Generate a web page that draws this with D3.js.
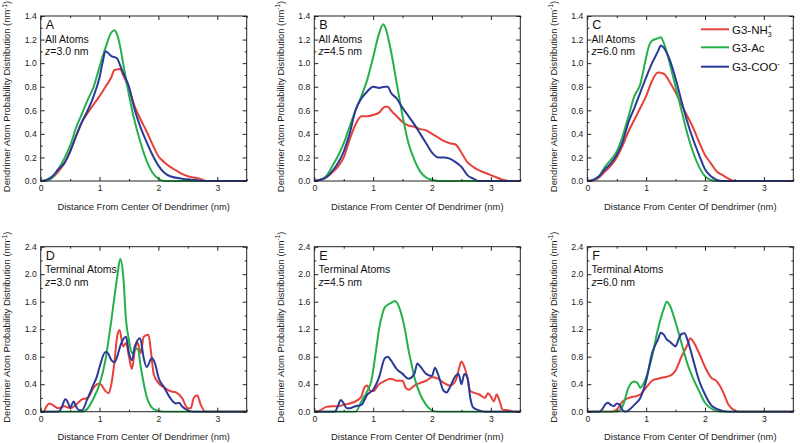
<!DOCTYPE html>
<html><head><meta charset="utf-8">
<script src="https://cdn.jsdelivr.net/npm/d3@7"></script>
<style>body{margin:0;background:#fff;} svg{display:block;font-family:"Liberation Sans",Arial,sans-serif;}</style>
</head><body><svg id="c" width="800" height="443"></svg>
<script>
// ---------- DATA (distance nm, probability nm^-1) ----------
const seriesNames = ["G3-NH3+", "G3-Ac", "G3-COO-"];
const xTicks = [0, 1, 2, 3];
const yTicksTop = [0, 0.2, 0.4, 0.6, 0.8, 1.0, 1.2, 1.4];
const yTicksBottom = [0, 0.4, 0.8, 1.2, 1.6, 2.0, 2.4];

const A_NH3 = [[0,0],[0.1,0.005],[0.2,0.03],[0.3,0.08],[0.4,0.15],[0.5,0.25],[0.6,0.38],[0.7,0.5],[0.8,0.58],[0.9,0.65],[1.0,0.72],[1.1,0.8],[1.2,0.88],[1.25,0.94],[1.35,0.95],[1.4,0.9],[1.5,0.78],[1.6,0.63],[1.7,0.52],[1.8,0.42],[1.9,0.31],[2.0,0.21],[2.1,0.16],[2.2,0.12],[2.3,0.09],[2.4,0.06],[2.5,0.04],[2.6,0.03],[2.7,0.02],[2.8,0],[3.5,0]];
const A_Ac = [[0,0],[0.1,0.005],[0.2,0.03],[0.3,0.1],[0.4,0.19],[0.5,0.3],[0.6,0.45],[0.7,0.57],[0.8,0.69],[0.9,0.8],[1.0,0.97],[1.1,1.13],[1.2,1.26],[1.25,1.28],[1.3,1.24],[1.35,1.14],[1.4,1.0],[1.45,0.86],[1.5,0.73],[1.6,0.5],[1.7,0.32],[1.8,0.17],[1.9,0.07],[2.0,0.02],[2.1,0],[3.5,0]];
const A_COO = [[0,0],[0.1,0.01],[0.2,0.04],[0.3,0.1],[0.4,0.15],[0.5,0.25],[0.6,0.38],[0.7,0.5],[0.8,0.6],[0.9,0.72],[1.0,0.88],[1.05,1.0],[1.1,1.1],[1.2,1.06],[1.3,1.04],[1.35,0.98],[1.4,0.92],[1.5,0.8],[1.6,0.6],[1.7,0.45],[1.8,0.33],[1.9,0.22],[2.0,0.13],[2.1,0.07],[2.2,0.04],[2.4,0.02],[2.6,0.01],[2.8,0],[3.5,0]];

const B_NH3 = [[0,0],[0.1,0.01],[0.2,0.03],[0.3,0.07],[0.4,0.12],[0.5,0.2],[0.6,0.35],[0.7,0.48],[0.8,0.55],[0.9,0.55],[1.0,0.56],[1.1,0.58],[1.2,0.63],[1.25,0.63],[1.3,0.6],[1.4,0.55],[1.5,0.5],[1.6,0.47],[1.7,0.46],[1.8,0.44],[1.9,0.43],[2.0,0.4],[2.1,0.37],[2.2,0.34],[2.3,0.32],[2.4,0.31],[2.5,0.24],[2.6,0.16],[2.7,0.12],[2.8,0.09],[2.9,0.07],[3.0,0.05],[3.1,0.03],[3.2,0.01],[3.3,0],[3.5,0]];
const B_Ac = [[0,0],[0.1,0.01],[0.2,0.04],[0.3,0.12],[0.4,0.21],[0.5,0.32],[0.6,0.46],[0.7,0.6],[0.8,0.72],[0.9,0.86],[1.0,1.05],[1.1,1.25],[1.17,1.33],[1.2,1.31],[1.3,1.11],[1.4,0.83],[1.5,0.55],[1.6,0.32],[1.7,0.18],[1.8,0.08],[1.9,0.03],[2.0,0.01],[2.1,0],[3.5,0]];
const B_COO = [[0,0],[0.1,0.01],[0.2,0.03],[0.3,0.08],[0.4,0.15],[0.5,0.25],[0.6,0.4],[0.7,0.6],[0.8,0.7],[0.9,0.76],[1.0,0.8],[1.1,0.79],[1.2,0.8],[1.25,0.8],[1.3,0.75],[1.4,0.7],[1.5,0.62],[1.6,0.55],[1.7,0.48],[1.8,0.4],[1.9,0.32],[2.0,0.24],[2.1,0.2],[2.2,0.2],[2.3,0.19],[2.4,0.16],[2.5,0.12],[2.6,0.05],[2.7,0.02],[2.8,0],[3.5,0]];

const C_NH3 = [[0,0],[0.1,0.005],[0.2,0.03],[0.3,0.08],[0.4,0.13],[0.5,0.2],[0.6,0.3],[0.7,0.42],[0.8,0.52],[0.9,0.62],[1.0,0.72],[1.1,0.85],[1.2,0.92],[1.3,0.91],[1.4,0.84],[1.5,0.75],[1.6,0.65],[1.7,0.55],[1.8,0.45],[1.9,0.33],[2.0,0.22],[2.1,0.15],[2.2,0.08],[2.3,0.05],[2.4,0.02],[2.5,0],[3.5,0]];
const C_Ac = [[0,0],[0.1,0.01],[0.2,0.04],[0.3,0.12],[0.4,0.18],[0.5,0.25],[0.6,0.38],[0.7,0.55],[0.8,0.72],[0.9,0.82],[1.0,1.05],[1.05,1.15],[1.1,1.19],[1.2,1.21],[1.25,1.22],[1.3,1.17],[1.4,1.0],[1.5,0.8],[1.6,0.6],[1.7,0.4],[1.8,0.24],[1.9,0.12],[2.0,0.04],[2.1,0.01],[2.2,0],[3.5,0]];
const C_COO = [[0,0],[0.1,0.01],[0.2,0.04],[0.3,0.1],[0.4,0.15],[0.5,0.22],[0.6,0.33],[0.7,0.5],[0.8,0.62],[0.9,0.75],[1.0,0.88],[1.1,1.0],[1.2,1.1],[1.25,1.15],[1.3,1.13],[1.4,1.03],[1.5,0.87],[1.6,0.68],[1.7,0.5],[1.8,0.35],[1.9,0.22],[2.0,0.1],[2.1,0.04],[2.2,0.01],[2.3,0],[3.5,0]];

const D_NH3 = [[0,0],[0.05,0],[0.1,0.08],[0.15,0.12],[0.2,0.1],[0.3,0.05],[0.4,0.08],[0.5,0.05],[0.6,0.1],[0.7,0.18],[0.8,0.2],[0.9,0.35],[1.0,0.41],[1.1,0.3],[1.15,0.27],[1.2,0.4],[1.25,0.7],[1.3,1.1],[1.34,1.19],[1.4,0.95],[1.45,1.0],[1.5,0.8],[1.55,0.62],[1.6,0.9],[1.65,1.0],[1.7,0.85],[1.75,1.09],[1.83,1.12],[1.87,0.9],[1.92,0.55],[2.0,0.42],[2.1,0.35],[2.2,0.3],[2.3,0.28],[2.4,0.2],[2.5,0.05],[2.55,0.05],[2.6,0.2],[2.66,0.24],[2.72,0.1],[2.8,0],[3.5,0]];
const D_Ac = [[0,0],[0.7,0],[0.8,0.05],[0.9,0.2],[1.0,0.4],[1.1,0.75],[1.2,1.33],[1.3,1.96],[1.35,2.22],[1.4,2.0],[1.45,1.33],[1.5,1.04],[1.55,0.85],[1.6,0.9],[1.65,0.92],[1.7,0.65],[1.8,0.22],[1.9,0.05],[2.0,0.01],[2.1,0],[3.5,0]];
const D_COO = [[0,0],[0.3,0],[0.35,0.05],[0.42,0.18],[0.47,0.12],[0.5,0.06],[0.56,0.15],[0.6,0.08],[0.65,0.02],[0.7,0.02],[0.8,0.2],[0.9,0.4],[0.95,0.5],[1.0,0.65],[1.1,0.87],[1.15,0.84],[1.2,0.75],[1.25,0.72],[1.3,0.8],[1.35,0.95],[1.45,1.09],[1.5,0.85],[1.55,0.75],[1.6,0.95],[1.69,1.07],[1.75,0.78],[1.8,0.65],[1.89,0.78],[1.95,0.68],[2.0,0.5],[2.1,0.35],[2.2,0.2],[2.3,0.12],[2.35,0.13],[2.4,0.08],[2.5,0.02],[2.6,0],[3.5,0]];

const E_NH3 = [[0,0],[0.1,0.02],[0.2,0.07],[0.3,0.08],[0.4,0.08],[0.5,0.1],[0.6,0.12],[0.7,0.15],[0.8,0.22],[0.85,0.35],[0.9,0.38],[0.95,0.3],[1.0,0.3],[1.1,0.4],[1.2,0.45],[1.3,0.48],[1.4,0.45],[1.5,0.45],[1.55,0.35],[1.6,0.32],[1.7,0.38],[1.8,0.42],[1.9,0.45],[2.0,0.5],[2.1,0.48],[2.2,0.42],[2.3,0.38],[2.4,0.45],[2.45,0.6],[2.5,0.73],[2.55,0.65],[2.6,0.5],[2.65,0.3],[2.7,0.28],[2.8,0.25],[2.9,0.2],[2.95,0.27],[3.0,0.22],[3.05,0.15],[3.1,0.25],[3.15,0.15],[3.2,0.03],[3.3,0.02],[3.4,0],[3.5,0]];
const E_Ac = [[0,0],[0.7,0],[0.8,0.15],[0.9,0.3],[0.97,0.45],[1.05,0.9],[1.1,1.2],[1.15,1.4],[1.2,1.52],[1.3,1.58],[1.37,1.61],[1.45,1.5],[1.5,1.35],[1.55,1.15],[1.6,0.9],[1.65,0.7],[1.7,0.5],[1.8,0.25],[1.9,0.1],[2.0,0.02],[2.1,0],[3.5,0]];
const E_COO = [[0,0],[0.35,0],[0.4,0.08],[0.45,0.17],[0.5,0.12],[0.55,0.05],[0.6,0.05],[0.7,0.08],[0.8,0.1],[0.9,0.25],[1.0,0.32],[1.1,0.5],[1.2,0.78],[1.25,0.8],[1.3,0.75],[1.4,0.62],[1.5,0.55],[1.6,0.48],[1.7,0.55],[1.75,0.7],[1.8,0.66],[1.9,0.55],[2.0,0.52],[2.05,0.64],[2.1,0.55],[2.2,0.3],[2.25,0.28],[2.3,0.35],[2.4,0.52],[2.45,0.55],[2.5,0.4],[2.55,0.55],[2.6,0.5],[2.65,0.2],[2.7,0.06],[2.8,0.02],[2.9,0],[3.5,0]];

const F_NH3 = [[0,0],[0.4,0],[0.5,0.03],[0.6,0.15],[0.7,0.2],[0.8,0.22],[0.9,0.25],[1.0,0.35],[1.1,0.45],[1.2,0.48],[1.3,0.5],[1.4,0.52],[1.5,0.6],[1.6,0.8],[1.7,0.97],[1.75,1.07],[1.8,1.02],[1.9,0.85],[2.0,0.65],[2.1,0.5],[2.2,0.44],[2.3,0.3],[2.4,0.1],[2.5,0.02],[2.6,0],[3.5,0]];
const F_Ac = [[0,0],[0.5,0],[0.6,0.08],[0.7,0.35],[0.75,0.42],[0.8,0.44],[0.85,0.42],[0.9,0.35],[1.0,0.5],[1.1,0.8],[1.2,1.2],[1.3,1.5],[1.35,1.6],[1.4,1.55],[1.5,1.3],[1.6,1.0],[1.7,0.7],[1.8,0.48],[1.9,0.3],[2.0,0.13],[2.1,0.05],[2.2,0.01],[2.3,0],[3.5,0]];
const F_COO = [[0,0],[0.2,0],[0.25,0.03],[0.3,0.1],[0.35,0.13],[0.4,0.1],[0.45,0.08],[0.5,0.12],[0.55,0.1],[0.6,0.02],[0.65,0],[0.7,0.02],[0.8,0.1],[0.9,0.2],[1.0,0.45],[1.1,0.85],[1.2,1.05],[1.25,1.15],[1.3,1.12],[1.35,1.05],[1.4,1.02],[1.45,0.98],[1.5,0.95],[1.55,1.05],[1.6,1.13],[1.65,1.14],[1.7,1.05],[1.8,0.75],[1.9,0.45],[2.0,0.25],[2.1,0.1],[2.2,0.04],[2.3,0.01],[2.4,0],[3.5,0]];

// ---------- LAYOUT ----------
const colors = ["#e8403a", "#24b04a", "#2b3a98"];
const PW = 206, PH = 165;
const panels = [
  {id:"A", label:"All Atoms", z:"3.0", yMax:1.4, yTicks:yTicksTop, minorY:0.1, series:[A_NH3,A_Ac,A_COO], left:40.7, top:16},
  {id:"B", label:"All Atoms", z:"4.5", yMax:1.4, yTicks:yTicksTop, minorY:0.1, series:[B_NH3,B_Ac,B_COO], left:314.3, top:16},
  {id:"C", label:"All Atoms", z:"6.0", yMax:1.4, yTicks:yTicksTop, minorY:0.1, series:[C_NH3,C_Ac,C_COO], left:587.3, top:16, legend:true},
  {id:"D", label:"Terminal Atoms", z:"3.0", yMax:2.4, yTicks:yTicksBottom, minorY:0.2, series:[D_NH3,D_Ac,D_COO], left:40.7, top:246.7},
  {id:"E", label:"Terminal Atoms", z:"4.5", yMax:2.4, yTicks:yTicksBottom, minorY:0.2, series:[E_NH3,E_Ac,E_COO], left:314.3, top:246.7},
  {id:"F", label:"Terminal Atoms", z:"6.0", yMax:2.4, yTicks:yTicksBottom, minorY:0.2, series:[F_NH3,F_Ac,F_COO], left:587.3, top:246.7}
];

const svg = d3.select("#c");
const axisColor = "#222";

panels.forEach((p, pi) => {
  const g = svg.append("g").attr("transform", `translate(${p.left},${p.top})`);
  const x = d3.scaleLinear().domain([0, 3.5]).range([0, PW]);
  const y = d3.scaleLinear().domain([0, p.yMax]).range([PH, 0]);

  const clipId = "clip" + pi;
  g.append("clipPath").attr("id", clipId).append("rect")
    .attr("x", -1).attr("y", -2).attr("width", PW + 2).attr("height", PH + 3);

  const line = d3.line().x(d => x(d[0])).y(d => y(d[1])).curve(d3.curveMonotoneX);
  const lg = g.append("g").attr("clip-path", `url(#${clipId})`);
  p.series.forEach((s, i) => {
    lg.append("path").datum(s).attr("d", line)
      .attr("fill", "none").attr("stroke", colors[i]).attr("stroke-width", 2)
      .attr("stroke-linejoin", "round");
  });

  // frame
  g.append("rect").attr("width", PW).attr("height", PH)
    .attr("fill", "none").attr("stroke", axisColor).attr("stroke-width", 1);

  const minorX = d3.range(0.5, 3.51, 1);
  const minorYv = d3.range(0, p.yMax + 1e-9, p.minorY).filter(v => !p.yTicks.some(t => Math.abs(t - v) < 1e-6));
  const fmtY = d3.format(".1f");

  const styleAxis = sel => {
    sel.select(".domain").remove();
    sel.selectAll("line").attr("stroke", axisColor);
    sel.selectAll("text").attr("font-size", 8.6).attr("fill", "#222")
      .attr("font-family", "'Liberation Sans', Arial, sans-serif");
  };

  // bottom
  g.append("g").attr("transform", `translate(0,${PH})`)
    .call(d3.axisBottom(x).tickValues(xTicks).tickFormat(d3.format("d")).tickSizeInner(-4).tickSizeOuter(0).tickPadding(4))
    .call(styleAxis);
  g.append("g").attr("transform", `translate(0,${PH})`)
    .call(d3.axisBottom(x).tickValues(minorX).tickFormat("").tickSizeInner(-2).tickSizeOuter(0))
    .call(styleAxis);
  // top
  g.append("g").call(d3.axisTop(x).tickValues(xTicks).tickFormat("").tickSizeInner(-4).tickSizeOuter(0)).call(styleAxis);
  g.append("g").call(d3.axisTop(x).tickValues(minorX).tickFormat("").tickSizeInner(-2).tickSizeOuter(0)).call(styleAxis);
  // left
  g.append("g")
    .call(d3.axisLeft(y).tickValues(p.yTicks).tickFormat(fmtY).tickSizeInner(-4).tickSizeOuter(0).tickPadding(4))
    .call(styleAxis);
  g.append("g").call(d3.axisLeft(y).tickValues(minorYv).tickFormat("").tickSizeInner(-2).tickSizeOuter(0)).call(styleAxis);
  // right
  g.append("g").attr("transform", `translate(${PW},0)`)
    .call(d3.axisRight(y).tickValues(p.yTicks).tickFormat("").tickSizeInner(-4).tickSizeOuter(0)).call(styleAxis);
  g.append("g").attr("transform", `translate(${PW},0)`)
    .call(d3.axisRight(y).tickValues(minorYv).tickFormat("").tickSizeInner(-2).tickSizeOuter(0)).call(styleAxis);

  // axis titles
  g.append("text").attr("x", PW / 2).attr("y", PH + 28.5).attr("text-anchor", "middle")
    .attr("font-size", 9.4).attr("fill", "#222").text("Distance From Center Of Dendrimer (nm)");
  const yt = g.append("text").attr("transform", `translate(-30.5,${PH / 2 - 2}) rotate(-90)`)
    .attr("text-anchor", "middle").attr("font-size", 9.4).attr("fill", "#222");
  yt.append("tspan").text("Dendrimer Atom Probability Distribution (nm");
  yt.append("tspan").attr("font-size", 6.5).attr("dy", -3.5).text("-1");
  yt.append("tspan").attr("dy", 3.5).text(")");

  // panel labels
  g.append("text").attr("x", 5).attr("y", 13).attr("font-size", 12.5).attr("fill", "#111").text(p.id);
  g.append("text").attr("x", 4.3).attr("y", 26.5).attr("font-size", 10.5).attr("fill", "#111").text(p.label);
  const zt = g.append("text").attr("x", 4.3).attr("y", 39).attr("font-size", 10.5).attr("fill", "#111");
  zt.append("tspan").attr("font-style", "italic").text("z");
  zt.append("tspan").text("=" + p.z + " nm");

  if (p.legend) {
    const lx0 = 701 - p.left, lx1 = 729 - p.left;
    const ly = [29.3, 47.3, 66.7].map(v => v - p.top);
    seriesNames.forEach((name, i) => {
      g.append("line").attr("x1", lx0).attr("x2", lx1).attr("y1", ly[i]).attr("y2", ly[i])
        .attr("stroke", colors[i]).attr("stroke-width", 2);
      const t = g.append("text").attr("x", lx1 + 3).attr("y", ly[i] + 4.2).attr("font-size", 11.5).attr("fill", "#111");
      if (i === 0) {
        t.append("tspan").text("G3-NH");
        t.append("tspan").attr("font-size", 7).attr("dy", 3).text("3");
        t.append("tspan").attr("font-size", 7).attr("dx", -4).attr("dy", -8).text("+");
      } else if (i === 1) {
        t.text("G3-Ac");
      } else {
        t.append("tspan").text("G3-COO");
        t.append("tspan").attr("font-size", 7).attr("dy", -5).text("-");
      }
    });
  }
});
</script></body></html>
